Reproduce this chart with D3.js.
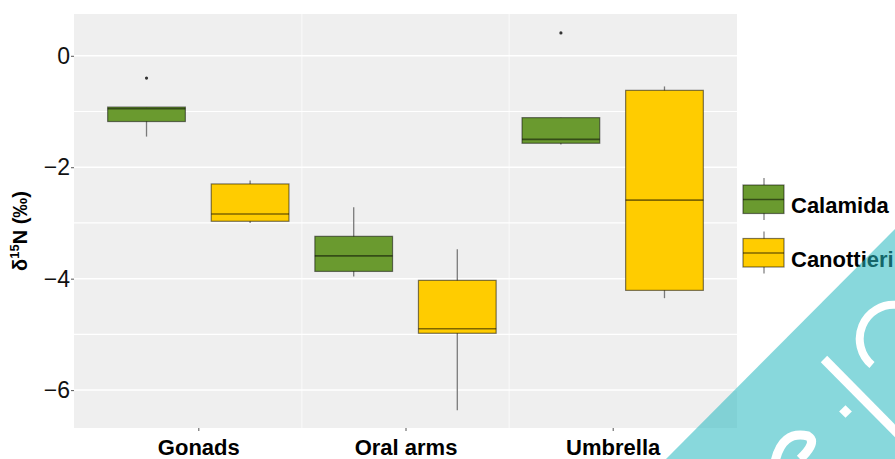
<!DOCTYPE html>
<html>
<head>
<meta charset="utf-8">
<script src="https://cdn.jsdelivr.net/npm/d3@7"></script>
<style>
  body { margin: 0; background: #fff; }
  svg { display: block; font-family: "Liberation Sans", Arial, sans-serif; }
</style>
</head>
<body>
<div id="chart"></div>
<script>
// categories and groups
var categories = ["Gonads", "Oral arms", "Umbrella"];
var groups = ["Calamida", "Canottieri"];
var colors = ["#6a9a2f", "#ffcc00"];

// box statistics, one value per category
var calamidaLow  = [-1.45, -3.96, -1.59];
var calamidaQ1   = [-1.18, -3.87, -1.57];
var calamidaMed  = [-0.95, -3.59, -1.50];
var calamidaQ3   = [-0.92, -3.24, -1.11];
var calamidaHigh = [-0.92, -2.72, -1.11];
var calamidaOut  = [[-0.40], [], [0.41]];

var canottieriLow  = [-3.00, -6.36, -4.35];
var canottieriQ1   = [-2.97, -4.98, -4.21];
var canottieriMed  = [-2.84, -4.90, -2.59];
var canottieriQ3   = [-2.30, -4.03, -0.62];
var canottieriHigh = [-2.24, -3.47, -0.55];
var canottieriOut  = [[], [], []];

var yTicks = [-6, -4, -2, 0];
var yMinor = [-5, -3, -1];

function BoxChart(){
    var w = 895;
    var h = 459;
    var left = 74, right = 737, top = 14, bottom = 428;

    var svg = d3.select("#chart")
                .append("svg")
                .attr("width", w)
                .attr("height", h);

    var x = d3.scaleLinear()
                .domain([0.4, 3.6])
                .range([left, right]);

    var y = d3.scaleLinear()
                .domain([-6.68, 0.75])
                .range([bottom, top]);

    // panel
    svg.append("rect")
        .attr("x", left).attr("y", top)
        .attr("width", right - left).attr("height", bottom - top)
        .attr("fill", "#efefef");

    svg.selectAll(".minor")
        .data(yMinor)
        .enter()
        .append("line")
        .attr("x1", left).attr("x2", right)
        .attr("y1", function(d){ return y(d); })
        .attr("y2", function(d){ return y(d); })
        .attr("stroke", "#fff").attr("stroke-width", 1.2);

    svg.selectAll(".major")
        .data(yTicks)
        .enter()
        .append("line")
        .attr("x1", left).attr("x2", right)
        .attr("y1", function(d){ return y(d); })
        .attr("y2", function(d){ return y(d); })
        .attr("stroke", "#fff").attr("stroke-width", 1.5);

    svg.selectAll(".vgrid")
        .data([1.5, 2.5])
        .enter()
        .append("line")
        .attr("y1", top).attr("y2", bottom)
        .attr("x1", function(d){ return x(d); })
        .attr("x2", function(d){ return x(d); })
        .attr("stroke", "#fff").attr("stroke-width", 1)
        .attr("stroke-opacity", 0.7);

    // axes
    var yAxis = d3.axisLeft(y)
                    .tickValues(yTicks)
                    .tickSize(3)
                    .tickPadding(1);

    var gy = svg.append("g")
        .attr("transform", "translate(" + left + ",0)")
        .call(yAxis);
    gy.select(".domain").remove();
    gy.selectAll("line").attr("stroke", "#555");
    gy.selectAll("text").attr("font-size", 23).attr("fill", "#111");

    var xAxis = d3.axisBottom(x)
                    .tickValues([1, 2, 3])
                    .tickFormat(function(d){ return categories[d - 1]; })
                    .tickSize(3)
                    .tickPadding(8);

    var gx = svg.append("g")
        .attr("transform", "translate(0," + bottom + ")")
        .call(xAxis);
    gx.select(".domain").remove();
    gx.selectAll("line").attr("stroke", "#555");
    gx.selectAll("text").attr("font-size", 22).attr("font-weight", "bold").attr("fill", "#000");

    // y title
    var title = svg.append("text")
        .attr("transform", "translate(27,231) rotate(-90)")
        .attr("text-anchor", "middle")
        .attr("font-size", 20)
        .attr("font-weight", "bold")
        .attr("fill", "#000");
    title.append("tspan").text("δ");
    title.append("tspan").text("15").attr("font-size", 13).attr("dy", -8);
    title.append("tspan").text("N (‰)").attr("dy", 8);

    // boxes
    var series = [
        {low: calamidaLow, q1: calamidaQ1, med: calamidaMed, q3: calamidaQ3, high: calamidaHigh, out: calamidaOut},
        {low: canottieriLow, q1: canottieriQ1, med: canottieriMed, q3: canottieriQ3, high: canottieriHigh, out: canottieriOut}
    ];
    var offsets = [-0.25, 0.25];
    var bw = 0.375;

    series.forEach(function(s, g){
        var data = categories.map(function(c, i){
            return {i: i + 1 + offsets[g], low: s.low[i], q1: s.q1[i], med: s.med[i],
                    q3: s.q3[i], high: s.high[i], out: s.out[i]};
        });
        var grp = svg.append("g");

        grp.selectAll(".whisker")
            .data(data)
            .enter()
            .append("line")
            .attr("x1", function(d){ return x(d.i); })
            .attr("x2", function(d){ return x(d.i); })
            .attr("y1", function(d){ return y(d.low); })
            .attr("y2", function(d){ return y(d.high); })
            .attr("stroke", "#7a7a7a").attr("stroke-width", 1.3);

        grp.selectAll(".box")
            .data(data)
            .enter()
            .append("rect")
            .attr("x", function(d){ return x(d.i - bw / 2); })
            .attr("width", x(bw) - x(0))
            .attr("y", function(d){ return y(d.q3); })
            .attr("height", function(d){ return y(d.q1) - y(d.q3); })
            .attr("fill", colors[g])
            .attr("stroke", "rgba(0,0,0,0.5)").attr("stroke-width", 1.2);

        grp.selectAll(".median")
            .data(data)
            .enter()
            .append("line")
            .attr("x1", function(d){ return x(d.i - bw / 2); })
            .attr("x2", function(d){ return x(d.i + bw / 2); })
            .attr("y1", function(d){ return y(d.med); })
            .attr("y2", function(d){ return y(d.med); })
            .attr("stroke", "rgba(0,0,0,0.5)").attr("stroke-width", 1.6);

        data.forEach(function(d){
            grp.selectAll(null)
                .data(d.out)
                .enter()
                .append("circle")
                .attr("cx", x(d.i))
                .attr("cy", function(v){ return y(v); })
                .attr("r", 1.6)
                .attr("fill", "#333");
        });
    });

    // legend
    var legend = svg.selectAll(".legend")
        .data(groups)
        .enter()
        .append("g")
        .attr("transform", function(d, i){ return "translate(743," + (185 + i * 53.5) + ")"; });

    legend.append("line")
        .attr("x1", 21).attr("x2", 21).attr("y1", -7).attr("y2", 35)
        .attr("stroke", "#7a7a7a").attr("stroke-width", 1.2);
    legend.append("rect")
        .attr("width", 41).attr("height", 28.5)
        .attr("fill", function(d, i){ return colors[i]; })
        .attr("stroke", "rgba(0,0,0,0.5)").attr("stroke-width", 1.2);
    legend.append("line")
        .attr("x1", 0).attr("x2", 41).attr("y1", 14.5).attr("y2", 14.5)
        .attr("stroke", "rgba(0,0,0,0.5)").attr("stroke-width", 1.6);
    legend.append("text")
        .attr("x", 48).attr("y", 28)
        .attr("font-size", 22)
        .attr("font-weight", "bold")
        .attr("fill", "#000")
        .text(function(d){ return d; });

    // corner watermark
    var wm = svg.append("g");
    wm.append("polygon")
        .attr("points", "895,229 895,459 666,459")
        .attr("fill", "rgb(39,184,191)")
        .attr("fill-opacity", 0.55);
    wm.append("line")
        .attr("x1", 824).attr("y1", 359).attr("x2", 900).attr("y2", 436)
        .attr("stroke", "#fff").attr("stroke-width", 9);
    wm.append("rect")
        .attr("x", 841).attr("y", 407).attr("width", 9).attr("height", 9)
        .attr("transform", "rotate(45,845.5,411.5)")
        .attr("fill", "#fff");
    wm.append("path")
        .attr("d", "M 897 305 A 34 34 0 0 0 872 365")
        .attr("fill", "none").attr("stroke", "#fff").attr("stroke-width", 8);
    wm.append("path")
        .attr("d", "M 775 462 Q 782 430 808 436 Q 818 442 800 459")
        .attr("fill", "none").attr("stroke", "#fff").attr("stroke-width", 9);
}

window.onload = BoxChart;
</script>
</body>
</html>
